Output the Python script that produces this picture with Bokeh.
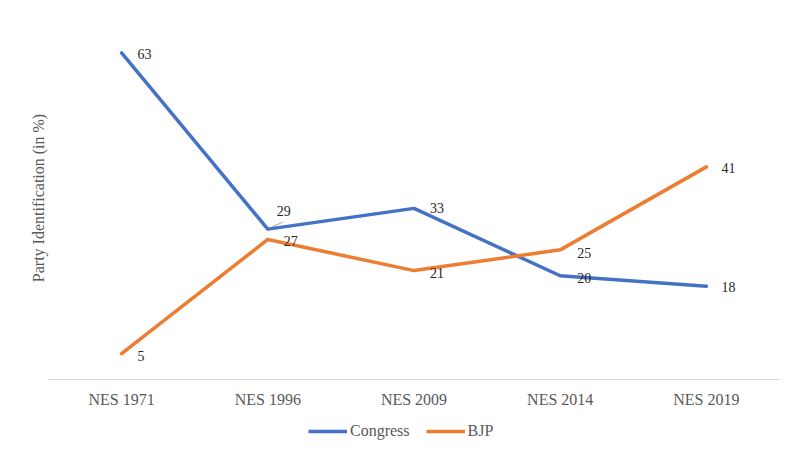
from bokeh.plotting import figure
from bokeh.layouts import column
from bokeh.models import ColumnDataSource, FactorRange, Range1d, Legend, LegendItem, LabelSet
from bokeh.core.properties import value
from bokeh.embed import file_html
from bokeh.resources import INLINE

# ---- data ----
surveys = ["NES 1971", "NES 1996", "NES 2009", "NES 2014", "NES 2019"]
congress = [63, 29, 33, 20, 18]
bjp = [5, 27, 21, 25, 41]

# ---- label placement (styles) ----
cong_dx = [16, 9, 16, 17, 15]
cong_dy = [-1, 18, 0, -2, -1]
bjp_dx = [16, 16, 16, 17, 15]
bjp_dy = [-2, -2, -2, -3, -1]

BLUE = "#4472C4"
ORANGE = "#ED7D31"
FONT = "Liberation Serif"

p = figure(width=785, height=410, x_range=FactorRange(*surveys),
           y_range=Range1d(0, 70), output_backend="svg", toolbar_location=None,
           min_border_left=48, min_border_right=6, min_border_top=16,
           min_border_bottom=31)
p.outline_line_color = None
p.grid.visible = False
p.background_fill_color = "white"
p.border_fill_color = "white"

src_c = ColumnDataSource(dict(x=surveys, y=congress, t=[str(v) for v in congress],
                              dx=cong_dx, dy=cong_dy))
src_b = ColumnDataSource(dict(x=surveys, y=bjp, t=[str(v) for v in bjp],
                              dx=bjp_dx, dy=bjp_dy))

p.line("x", "y", source=src_c, line_color=BLUE, line_width=3.5, line_cap="round", line_join="round")
p.line("x", "y", source=src_b, line_color=ORANGE, line_width=3.5, line_cap="round", line_join="round")

# small gray leader line from the 1996 Congress point towards its label
i96 = surveys.index("NES 1996") + 0.5
p.segment(x0=[i96 + 0.027], y0=[congress[1] + 0.4], x1=[i96 + 0.103], y1=[congress[1] + 1.35],
          line_color="#a6a6a6", line_width=1)

for src in (src_c, src_b):
    ls = LabelSet(x="x", y="y", text="t", source=src, x_offset="dx", y_offset="dy",
                  text_font=value(FONT), text_font_size="14px", text_color="#262626",
                  text_baseline="middle", text_align="left")
    p.add_layout(ls)

p.xaxis.axis_line_color = "#d9d9d9"
p.xaxis.axis_line_width = 1
p.xaxis.major_tick_line_color = None
p.xaxis.minor_tick_line_color = None
p.xaxis.major_tick_out = 0
p.xaxis.major_tick_in = 0
p.xaxis.major_label_standoff = 11
p.xaxis.major_label_text_font = FONT
p.xaxis.major_label_text_font_size = "16px"
p.xaxis.major_label_text_color = "#595959"

p.yaxis.ticker = []
p.yaxis.axis_line_color = None
p.yaxis.major_tick_line_color = None
p.yaxis.minor_tick_line_color = None
p.yaxis.axis_label = "Party Identification (in %)"
p.yaxis.axis_label_text_font = FONT
p.yaxis.axis_label_text_font_style = "normal"
p.yaxis.axis_label_text_font_size = "16px"
p.yaxis.axis_label_text_color = "#595959"
p.yaxis.axis_label_standoff = 2

# ---- legend strip (series drawn out of view; only the legend shows) ----
lg = figure(width=785, height=32, x_range=FactorRange(*surveys),
            y_range=Range1d(1000, 1001), output_backend="svg", toolbar_location=None,
            min_border=0)
lg.axis.visible = False
lg.grid.visible = False
lg.outline_line_color = None
lg.background_fill_color = "white"
lg.border_fill_color = "white"
lc = lg.line("x", "y", source=src_c, line_color=BLUE, line_width=3.5)
lb = lg.line("x", "y", source=src_b, line_color=ORANGE, line_width=3.5)

legend = Legend(items=[LegendItem(label="Congress", renderers=[lc]),
                       LegendItem(label="BJP", renderers=[lb])],
                orientation="horizontal", location=(260, 2),
                label_text_font=FONT, label_text_font_size="16px",
                label_text_color="#595959", glyph_width=39, glyph_height=16,
                label_height=16, label_standoff=3, spacing=16, padding=0, margin=0,
                border_line_color=None, background_fill_alpha=0)
lg.add_layout(legend, "center")

layout = column(p, lg, spacing=0)
open("out.html", "w").write(file_html(layout, INLINE))
